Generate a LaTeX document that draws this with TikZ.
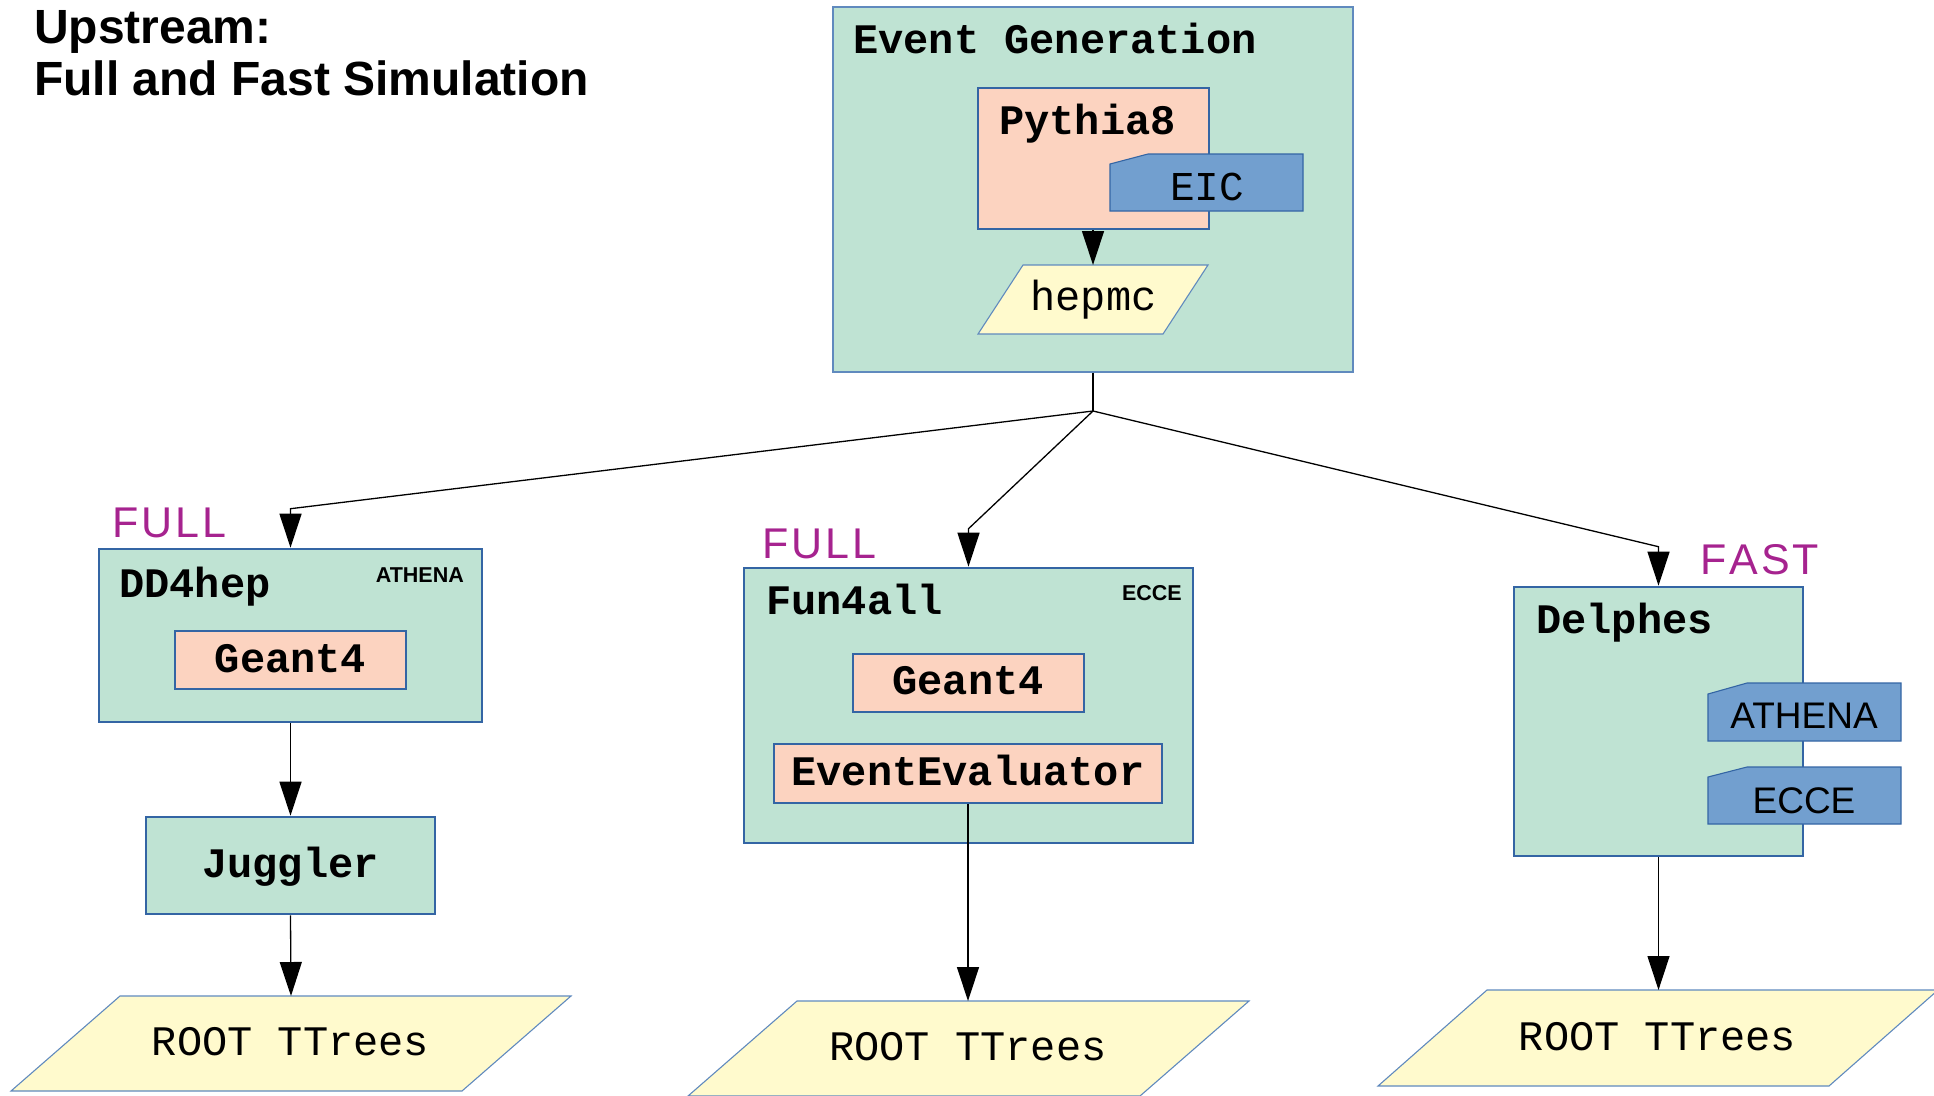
\documentclass[tikz,border=0pt]{standalone}
\usepackage{fontspec}
\setmainfont{Liberation Sans}
\newfontfamily\monofont{Liberation Mono}
\usetikzlibrary{arrows.meta}
\definecolor{boxgreen}{RGB}{191,227,211}
\definecolor{salmon}{RGB}{252,211,192}
\definecolor{tagblue}{RGB}{114,159,207}
\definecolor{pyellow}{RGB}{255,250,205}
\definecolor{bordblue}{RGB}{52,101,164}
\definecolor{lightbord}{RGB}{96,138,190}
\definecolor{labpurple}{RGB}{166,35,143}
\begin{document}
\begin{tikzpicture}[x=1pt,y=-1pt,
  frame/.style={draw=bordblue, line width=2.6pt, inner sep=0pt},
  gbox/.style={frame, fill=boxgreen},
  sbox/.style={frame, fill=salmon},
  outerbox/.style={draw=lightbord, line width=1.3pt, fill=boxgreen, inner sep=0pt},
  ghost/.style={inner sep=0pt, outer sep=0pt},
  tagshape/.style={draw=bordblue, line width=1.1pt, fill=tagblue},
  pgshape/.style={draw=lightbord, line width=1.1pt, fill=pyellow},
  mb/.style={inner sep=0pt, font=\monofont\bfseries\fontsize{42}{50}\selectfont},
  mr/.style={inner sep=0pt, font=\monofont\fontsize{42}{50}\selectfont},
  small/.style={inner sep=0pt, font=\bfseries\fontsize{21.5}{25}\selectfont},
  tagtext/.style={inner sep=0pt, font=\fontsize{37}{44}\selectfont},
  kind/.style={inner sep=0pt, text=labpurple, font=\fontsize{43}{50}\selectfont},
  titlefont/.style={inner sep=0pt, font=\bfseries\fontsize{48}{52}\selectfont},
  conn/.style={line width=1.3pt},
  arr/.style={line width=1.3pt, -{Triangle[length=34pt,width=22pt]}}
]
\useasboundingbox (0,0) rectangle (1934,1095);

% title
\node[titlefont, anchor=base west] (title1) at (34,43) {Upstream:};
\node[titlefont, anchor=base west] (title2) at (34,95) {Full and Fast Simulation};

% ---------- Event Generation ----------
\node[outerbox, minimum width=520pt, minimum height=365pt] (eg) at (1093,189.5) {};
\node[mb, anchor=base west] (egt) at (853,53) {Event Generation};
\node[sbox, minimum width=231pt, minimum height=141pt] (py) at (1093.5,158.5) {};
\node[mb, anchor=base west] (pyt) at (999,134) {Pythia8};
\node[ghost, minimum width=193pt, minimum height=57pt] (eic) at (1206.5,182.5) {};
\filldraw[tagshape] ([yshift=-10pt]eic.north west) -- ([xshift=38pt]eic.north west)
  -- (eic.north east) -- (eic.south east) -- (eic.south west) -- cycle;
\node[mr, font=\monofont\fontsize{41}{48}\selectfont, anchor=base] (eict) at (1207,200) {EIC};
\node[ghost, minimum width=230pt, minimum height=69pt] (hep) at (1093,299.5) {};
\filldraw[pgshape] ([xshift=45pt]hep.north west) -- (hep.north east)
  -- ([xshift=-45pt]hep.south east) -- (hep.south west) -- cycle;
\node[mr, anchor=base] (hept) at (1093.5,310) {hepmc};
\draw[arr] (py.south -| hep.north) -- (hep.north);

% ---------- DD4hep branch ----------
\node[gbox, minimum width=383pt, minimum height=173pt] (dd) at (290.5,635.5) {};
\node[mb, anchor=base west] (ddt) at (119,597) {DD4hep};
\node[small, anchor=base east] (ddx) at (464,582) {ATHENA};
\node[sbox, minimum width=231pt, minimum height=58pt] (g1) at (290.5,660) {};
\node[mb, anchor=base] (g1t) at (290.5,672) {Geant4};
\node[kind, anchor=base west] (full1) at (112,537) {F\kern3pt U\kern3pt L\kern3pt L};
\node[gbox, minimum width=289pt, minimum height=97pt] (jug) at (290.5,865.5) {};
\node[mb, anchor=base] (jugt) at (290.5,877) {Juggler};
\node[ghost, minimum width=560pt, minimum height=95pt] (r1) at (291,1043.5) {};
\filldraw[pgshape] ([xshift=109pt]r1.north west) -- (r1.north east)
  -- ([xshift=-109pt]r1.south east) -- (r1.south west) -- cycle;
\node[mr, anchor=base] (r1t) at (290.5,1055) {ROOT TTrees};

% ---------- Fun4all branch ----------
\node[gbox, minimum width=449pt, minimum height=275pt] (fa) at (968.5,705.5) {};
\node[mb, anchor=base west] (fat) at (766,614) {Fun4all};
\node[small, anchor=base east] (fax) at (1182,600) {ECCE};
\node[sbox, minimum width=231pt, minimum height=58pt] (g2) at (968.5,683) {};
\node[mb, anchor=base] (g2t) at (968,694) {Geant4};
\node[sbox, minimum width=388pt, minimum height=59pt] (ev) at (968,773.5) {};
\node[mb, anchor=base] (evt) at (968,785) {EventEvaluator};
\node[kind, anchor=base west] (full2) at (762,558) {F\kern3pt U\kern3pt L\kern3pt L};
\node[ghost, minimum width=561pt, minimum height=95pt] (r2) at (968.5,1048.5) {};
\filldraw[pgshape] ([xshift=109pt]r2.north west) -- (r2.north east)
  -- ([xshift=-109pt]r2.south east) -- (r2.south west) -- cycle;
\node[mr, anchor=base] (r2t) at (968,1060) {ROOT TTrees};

% ---------- Delphes branch ----------
\node[gbox, minimum width=289pt, minimum height=269pt] (de) at (1658.5,721.5) {};
\node[mb, anchor=base west] (det) at (1536,633) {Delphes};
\node[kind, anchor=base west] (fast) at (1700,574) {F\kern3pt A\kern3pt S\kern3pt T};
\node[ghost, minimum width=193pt, minimum height=58pt] (ath) at (1804.5,712) {};
\filldraw[tagshape] ([yshift=-11pt]ath.north west) -- ([xshift=39pt]ath.north west)
  -- (ath.north east) -- (ath.south east) -- (ath.south west) -- cycle;
\node[tagtext, anchor=base] (atht) at (1804,728) {ATHENA};
\node[ghost, minimum width=193pt, minimum height=57pt] (ecc) at (1804.5,795.5) {};
\filldraw[tagshape] ([yshift=-10pt]ecc.north west) -- ([xshift=39pt]ecc.north west)
  -- (ecc.north east) -- (ecc.south east) -- (ecc.south west) -- cycle;
\node[tagtext, anchor=base] (ecct) at (1804,813) {ECCE};
\node[ghost, minimum width=560pt, minimum height=96pt] (r3) at (1658,1038) {};
\filldraw[pgshape] ([xshift=109pt]r3.north west) -- (r3.north east)
  -- ([xshift=-109pt]r3.south east) -- (r3.south west) -- cycle;
\node[mr, anchor=base] (r3t) at (1657.5,1050) {ROOT TTrees};

% ---------- connectors ----------
\coordinate (j) at (1093,411);
\draw[conn] (eg.south) -- (j);
\draw[arr] (j) -- ([yshift=39pt]dd.north) -- (dd.north);
\draw[arr] (j) -- ([yshift=38pt]fa.north) -- (fa.north);
\draw[arr] (j) -- ([yshift=39pt]de.north) -- (de.north);
\draw[arr] (dd.south) -- (jug.north);
\draw[arr] (jug.south) -- (r1.north);
\draw[arr] (ev.south) -- (ev.south |- r2.north);
\draw[arr] (de.south) -- (de.south |- r3.north);
\end{tikzpicture}
\end{document}
